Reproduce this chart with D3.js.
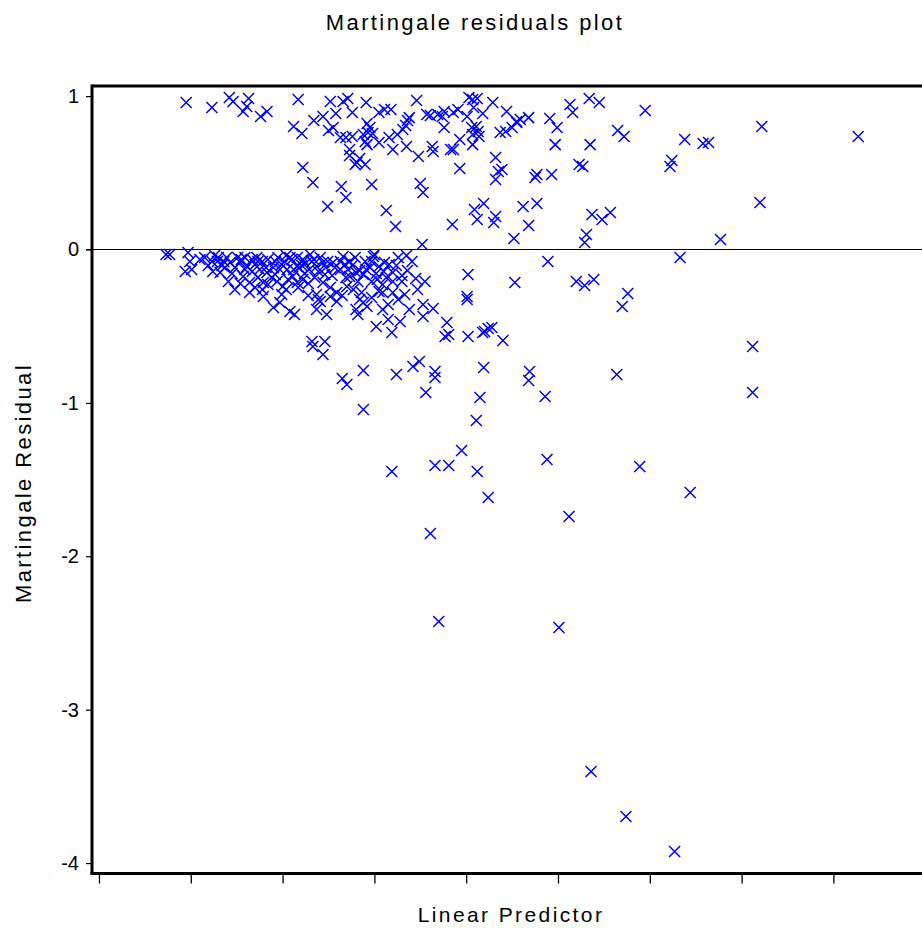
<!DOCTYPE html>
<html><head><meta charset="utf-8">
<script src="https://cdn.jsdelivr.net/npm/d3@7"></script>
<style>
html,body{margin:0;padding:0;background:#fff;}
svg{display:block;}
text{font-family:"Liberation Sans",Arial,sans-serif;fill:#000;}
</style></head>
<body>
<script>
// ---- data: [linear predictor, martingale residual] ----
const pointsUpper = [
[0.95,0.958],[1.23,0.926],[1.42,0.991],[1.46,0.965],[1.57,0.900],[1.63,0.984],[1.61,0.932],[1.76,0.867],[1.83,0.900],
[2.17,0.978],[2.12,0.802],[2.21,0.756],[2.22,0.535],[2.33,0.437],[2.34,0.841],[2.44,0.867],[2.50,0.776],[2.55,0.795],
[2.49,0.280],[2.52,0.965],[2.58,0.887],[2.64,0.411],[2.69,0.339],[2.66,0.965],[2.71,0.984],[2.76,0.893],[2.63,0.730],
[2.69,0.730],[2.76,0.737],[2.73,0.652],[2.73,0.613],[2.79,0.554],[2.81,0.567],[2.84,0.593],[2.91,0.958],[2.92,0.821],
[2.95,0.795],[3.05,0.893],[3.11,0.913],[3.18,0.913],[2.88,0.750],[2.93,0.763],[2.98,0.756],[2.92,0.684],[2.90,0.704],
[3.05,0.698],[3.16,0.730],[3.20,0.652],[3.25,0.750],[3.31,0.782],[3.34,0.808],[3.36,0.841],[3.38,0.860],[3.35,0.671],
[3.48,0.606],[3.46,0.971],[3.57,0.880],[2.97,0.424],[3.13,0.254],[3.23,0.150],[3.50,0.430],[3.53,0.372],[3.52,0.033],
[2.90,0.554],
[3.61,0.874],[3.69,0.880],[3.74,0.867],[3.76,0.900],[3.86,0.893],[3.91,0.913],[4.03,0.991],[4.07,0.978],[4.12,0.984],
[4.08,0.926],[4.01,0.867],[4.18,0.887],[4.29,0.958],[4.44,0.900],[4.55,0.834],[4.59,0.847],[4.68,0.860],[4.91,0.854],
[4.99,0.795],[5.13,0.945],[5.16,0.893],[3.76,0.795],[3.93,0.717],[4.06,0.795],[4.11,0.802],[4.13,0.769],[4.14,0.737],
[4.07,0.750],[4.07,0.684],[4.37,0.763],[4.43,0.769],[4.50,0.795],[4.55,0.828],[3.63,0.671],[3.64,0.639],[3.83,0.652],
[3.86,0.652],[4.32,0.600],[4.97,0.684],[3.93,0.528],[4.39,0.522],[4.35,0.508],[4.32,0.456],[4.77,0.489],[4.75,0.469],
[4.93,0.489],[5.23,0.554],[4.09,0.261],[4.19,0.300],[4.12,0.196],[4.32,0.215],[4.30,0.176],[4.62,0.280],[4.77,0.300],
[3.85,0.163],[4.68,0.156],[4.52,0.072],
[5.34,0.984],[5.45,0.958],[5.35,0.684],[5.27,0.541],[5.37,0.228],[5.48,0.196],[5.57,0.241],[5.31,0.098],[5.29,0.046],
[5.95,0.906],[5.65,0.776],[5.72,0.737],[6.38,0.717],[6.58,0.691],[6.64,0.698],[6.24,0.580],[6.22,0.541],[7.22,0.802],
[8.27,0.737],[7.20,0.306],[6.77,0.065]
];
const pointsNearZero = [
[0.73,-0.033],[0.77,-0.033],[0.97,-0.020],[0.94,-0.143],[1.01,-0.130],[0.99,-0.078],[1.15,-0.052],[1.10,-0.065],
[1.29,-0.078],[1.24,-0.143],[1.32,-0.150],[1.39,-0.052],[1.43,-0.085],[1.41,-0.209],[1.48,-0.261],[1.54,-0.085],
[1.61,-0.111],[1.67,-0.065],[1.72,-0.052],[1.57,-0.176],[1.64,-0.215],[1.70,-0.248],[1.64,-0.280],[1.79,-0.306],
[1.75,-0.130],[1.83,-0.150],[1.90,-0.117],[1.99,-0.098],[1.79,-0.215],[1.94,-0.209],[2.00,-0.241],[1.99,-0.293],
[1.90,-0.378],[1.97,-0.345],[2.08,-0.404],[2.13,-0.424],[2.08,-0.052],[2.16,-0.111],[2.11,-0.176],[2.30,-0.033],
[2.22,-0.065],[2.16,-0.052],[2.10,-0.065],[2.44,-0.085],[2.37,-0.111],[2.29,-0.130],[2.16,-0.215],[2.22,-0.196],
[2.44,-0.215],[2.52,-0.248],[2.59,-0.280],[2.37,-0.293],[2.39,-0.326],[2.59,-0.339],[2.70,-0.241],[2.77,-0.261],
[2.86,-0.280],[2.84,-0.326],[2.88,-0.345],[2.97,-0.209],[3.03,-0.196],[3.09,-0.228],[3.05,-0.274],[3.09,-0.280],
[3.20,-0.280],[2.66,-0.046],[2.63,-0.078],[2.55,-0.085],[2.84,-0.137],[2.80,-0.150],[2.88,-0.163],[3.05,-0.111],
[3.11,-0.085],[3.16,-0.098],[3.20,-0.150],[2.99,-0.046],[3.35,-0.039],[3.36,-0.137],[3.45,-0.189],[3.55,-0.209],
[2.37,-0.391],[2.48,-0.424],[2.80,-0.391],[2.82,-0.424],[2.92,-0.372],[3.09,-0.391],[3.15,-0.359],[3.15,-0.456],
[3.02,-0.502],[3.19,-0.541],[3.28,-0.469],[3.38,-0.391],[3.53,-0.359],[3.53,-0.437],[3.64,-0.385],[3.00,-0.033],
[3.13,-0.183],[3.20,-0.209],[2.73,-0.176],[2.52,-0.306],[2.41,-0.339],
[1.23,-0.078],[1.34,-0.104],[1.48,-0.117],[1.51,-0.052],[1.59,-0.052],[1.70,-0.098],[1.78,-0.078],[1.84,-0.065],
[1.92,-0.078],[1.95,-0.052],[2.02,-0.078],[2.05,-0.130],[2.18,-0.117],[2.25,-0.091],[2.34,-0.065],[2.41,-0.052],
[2.49,-0.078],[2.57,-0.117],[2.68,-0.098],[2.73,-0.078],[2.79,-0.052],[2.90,-0.078],[2.95,-0.117],[2.71,-0.130],
[2.46,-0.163],[2.35,-0.183],[2.24,-0.156],[2.06,-0.196],[1.92,-0.163],[1.84,-0.228],[1.73,-0.183],[1.59,-0.130],
[1.37,-0.117],[1.30,-0.052],[3.26,-0.052],[3.30,-0.209],[3.33,-0.293],
[1.19,-0.104],[1.26,-0.039],[1.36,-0.078],[1.45,-0.156],[1.55,-0.065],[1.67,-0.143],[1.73,-0.078],[1.82,-0.117],
[1.88,-0.183],[1.97,-0.130],[2.04,-0.039],[2.12,-0.130],[2.21,-0.104],[2.17,-0.248],[2.28,-0.222],[2.32,-0.078],
[2.39,-0.143],[2.47,-0.117],[2.54,-0.170],[2.63,-0.130],[2.69,-0.183],[2.76,-0.104],[2.82,-0.209],[2.91,-0.130],
[2.97,-0.078],[3.02,-0.156],[3.10,-0.143],[3.24,-0.104],[3.30,-0.170],[3.41,-0.078],[3.47,-0.261],[3.26,-0.326],
[2.97,-0.313],[2.65,-0.300],[2.28,-0.300],[2.04,-0.261],[1.78,-0.261],[1.54,-0.222]
];
const pointsLower = [
[2.32,-0.600],[2.46,-0.600],[2.33,-0.632],[2.44,-0.684],[3.79,-0.476],[3.77,-0.567],[2.65,-0.841],[2.70,-0.880],
[2.88,-0.789],[3.24,-0.815],[3.42,-0.763],[3.49,-0.730],[3.66,-0.795],[3.66,-0.834],[3.56,-0.932],[2.88,-1.043],
[4.89,-0.078],[6.33,-0.052],[4.02,-0.163],[4.53,-0.215],[5.20,-0.209],[5.29,-0.235],[5.39,-0.196],[5.76,-0.287],
[5.70,-0.372],[4.01,-0.306],[4.01,-0.326],[3.81,-0.554],[4.02,-0.567],[4.20,-0.535],[4.24,-0.515],[4.28,-0.508],
[4.18,-0.541],[4.40,-0.593],[4.19,-0.769],[4.69,-0.795],[4.68,-0.854],[5.64,-0.815],[4.15,-0.965],[4.86,-0.958],
[4.11,-1.115],[3.95,-1.310],[3.66,-1.408],[3.81,-1.408],[3.19,-1.447],[4.12,-1.447],[4.88,-1.369],[5.89,-1.415],
[6.44,-1.584],[4.24,-1.617],[5.12,-1.741],[3.61,-1.851],[3.70,-2.425],[5.01,-2.464],[5.36,-3.403],[5.74,-3.696],
[6.27,-3.924],[7.12,-0.632],[7.12,-0.932]
];
const yTicks = [1, 0, -1, -2, -3, -4];
const xTicks = [0, 1, 2, 3, 4, 5, 6, 7, 8];
const titleText = "Martingale residuals plot";
const xLabel = "Linear Predictor";
const yLabel = "Martingale Residual";

const W = 922, H = 928;
const svg = d3.select("body").append("svg").attr("width", W).attr("height", H);

const pLeft = 92, pRight = 922, pTop = 86, pBottom = 873.5;
const x = d3.scaleLinear().domain([-0.076, 8.965]).range([pLeft, pRight]);
const y = d3.scaleLinear().domain([1.066, -4.068]).range([pTop, pBottom]);

// zero reference line
svg.append("line").attr("x1", pLeft - 6).attr("x2", pRight)
  .attr("y1", y(0)).attr("y2", y(0))
  .attr("stroke", "#000").attr("stroke-width", 1.2);

// points
const allPts = pointsUpper.concat(pointsNearZero, pointsLower);
const s = 5.5;
svg.append("g").selectAll("path").data(allPts).join("path")
  .attr("transform", d => `translate(${x(d[0])},${y(d[1])})`)
  .attr("d", `M${-s},${-s}L${s},${s}M${-s},${s}L${s},${-s}`)
  .attr("stroke", "#0000ff").attr("stroke-width", 1.5).attr("fill", "none");

// top frame line
svg.append("line").attr("x1", pLeft).attr("x2", pRight).attr("y1", pTop).attr("y2", pTop)
  .attr("stroke", "#000").attr("stroke-width", 3);

// y axis
const yAxis = d3.axisLeft(y).tickValues(yTicks).tickSize(6).tickPadding(7).tickFormat(d => String(d));
const gy = svg.append("g").attr("transform", `translate(${pLeft},0)`).call(yAxis);
gy.select(".domain").remove();
gy.selectAll(".tick line").attr("stroke", "#000").attr("stroke-width", 1.2);
gy.selectAll(".tick text").attr("font-size", 20).attr("font-family", "Liberation Sans, Arial, sans-serif").attr("fill", "#000");
svg.append("line").attr("x1", pLeft).attr("x2", pLeft).attr("y1", pTop - 1.5).attr("y2", pBottom + 1.5)
  .attr("stroke", "#000").attr("stroke-width", 3);

// x axis
const xAxis = d3.axisBottom(x).tickValues(xTicks).tickSize(10).tickFormat(() => "");
const gx = svg.append("g").attr("transform", `translate(0,${pBottom})`).call(xAxis);
gx.select(".domain").remove();
gx.selectAll(".tick line").attr("stroke", "#000").attr("stroke-width", 1.3);
svg.append("line").attr("x1", pLeft - 1.5).attr("x2", pRight).attr("y1", pBottom).attr("y2", pBottom)
  .attr("stroke", "#000").attr("stroke-width", 3);

// titles
svg.append("text").attr("x", 475).attr("y", 30).attr("text-anchor", "middle")
  .attr("font-size", 22).attr("letter-spacing", "2.4px").text(titleText);
svg.append("text").attr("x", 511).attr("y", 922).attr("text-anchor", "middle")
  .attr("font-size", 21).attr("letter-spacing", "2.4px").text(xLabel);
svg.append("text").attr("transform", "translate(31,483) rotate(-90)").attr("text-anchor", "middle")
  .attr("font-size", 22).attr("letter-spacing", "2.4px").text(yLabel);
</script>
</body></html>
